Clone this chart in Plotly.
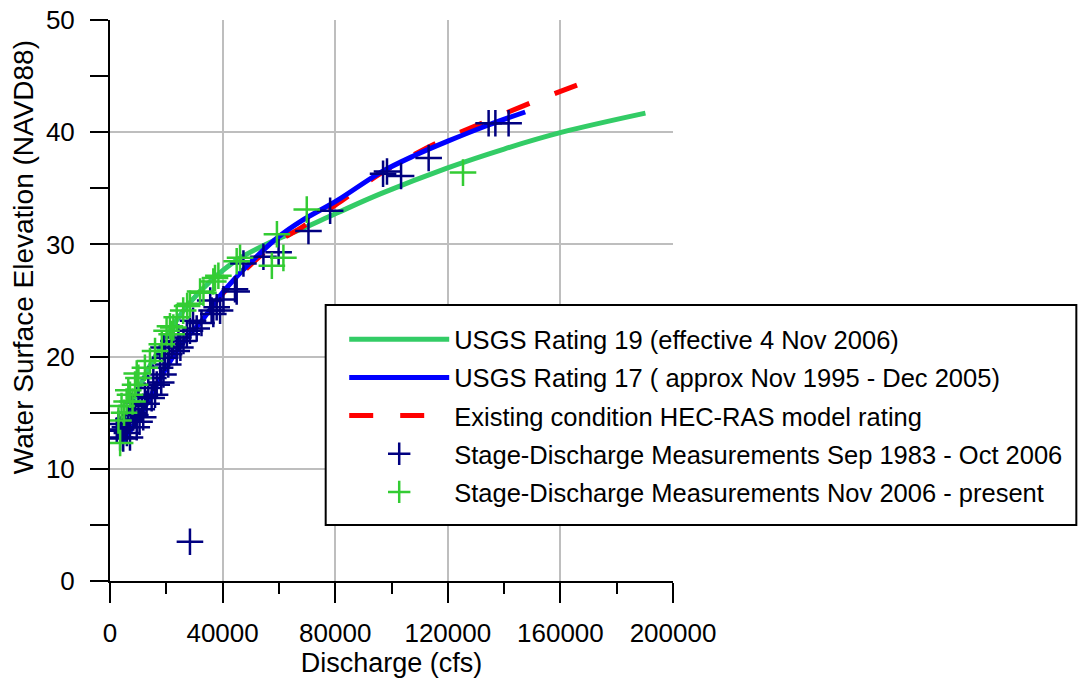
import plotly.graph_objects as go

# Rating curves (discharge cfs, stage ft NAVD88)
rating19_q = [3600, 6000, 10000, 14200, 18400, 22000, 28000, 35600, 45000, 57000, 67400, 80600, 96000, 119700, 140000, 160600, 190200]
rating19_h = [12.6, 14.6, 17.0, 19.2, 21.0, 22.6, 24.7, 26.7, 28.6, 30.2, 31.3, 32.8, 34.5, 36.8, 38.5, 40.0, 41.7]

rating17_q = [4500, 8000, 11300, 16000, 22400, 27000, 32000, 40000, 50000, 60000, 68000, 80600, 96000, 108000, 120000, 134000, 147500]
rating17_h = [12.3, 13.7, 15.0, 17.2, 20.0, 21.6, 23.0, 25.7, 28.4, 30.7, 32.1, 33.9, 36.4, 37.9, 39.2, 40.6, 41.8]

# HEC-RAS rating listed from the high-flow end
hecras_q = [165900, 158600, 149300, 134000, 120000, 108000, 96000, 80600, 68000, 60000, 50000, 40000, 30000]
hecras_h = [44.2, 43.5, 42.6, 41.0, 39.5, 38.0, 36.3, 33.6, 31.5, 30.3, 28.2, 25.6, 22.6]

# Stage-discharge measurements Sep 1983 - Oct 2006
meas1_q = [2400, 3000, 3600, 4000, 4700, 5300, 6000, 6500, 7100, 7700, 8300, 9000, 9500, 10100, 10500,
           11300, 11800, 12400, 13000, 13600, 14800, 15400, 16000, 16600, 17800, 18200, 19000, 19000,
           19600, 20700, 21000, 21900, 22500, 23700, 24300, 25000, 26100, 27300, 28400, 29500, 30800,
           32500, 35600, 36100, 36700, 37900, 39100, 40300, 44400, 45000, 47400, 54500, 59900, 70500,
           78200, 97000, 98400, 103400, 113200, 134500, 136900, 141600, 28400]
meas1_h = [13.4, 14.0, 12.8, 13.5, 12.7, 13.7, 13.2, 14.4, 12.8, 15.6, 15.0, 14.8, 13.7, 15.9, 14.2,
           15.3, 14.6, 16.5, 15.8, 17.2, 16.3, 18.1, 16.6, 17.5, 19.0, 17.7, 18.4, 20.8,
           19.9, 19.3, 20.2, 21.1, 21.4, 20.5, 21.7, 20.8, 21.4, 22.0, 22.3, 23.2, 22.5,
           23.0, 25.0, 24.1, 23.8, 24.4, 24.1, 25.1, 26.0, 25.8, 28.3, 28.9, 29.3, 31.2,
           33.0, 36.3, 36.5, 36.1, 37.7, 40.8, 40.8, 40.8, 3.5]

# Stage-discharge measurements Nov 2006 - present
meas2_q = [3000, 3600, 4100, 5000, 5900, 6500, 7100, 8000, 8900, 9500, 10100, 12400, 14200, 16000,
           18400, 20100, 21300, 21900, 22500, 23700, 26000, 27400, 28400, 32000, 33200, 36700, 37300,
           38500, 45000, 46200, 57500, 59300, 61600, 69900, 125400]
meas2_h = [14.3, 12.3, 15.6, 15.0, 16.0, 17.0, 16.6, 16.0, 17.5, 18.5, 18.1, 19.0, 19.6, 20.5,
           21.1, 22.3, 22.7, 22.0, 22.6, 23.5, 24.1, 24.5, 24.7, 25.8, 25.7, 26.7, 27.0,
           27.2, 28.5, 28.8, 28.1, 30.9, 28.8, 33.1, 36.4]

x_ticks = [0, 40000, 80000, 120000, 160000, 200000]
y_ticks = [0, 10, 20, 30, 40, 50]

FONT = "Liberation Sans, Arial, sans-serif"

fig = go.Figure()
fig.add_trace(go.Scatter(x=rating19_q, y=rating19_h, mode="lines", line=dict(color="#33CC66", width=5, shape="spline"),
                         name="USGS Rating 19 (effective 4 Nov 2006)", legendgroup="a", legendrank=1))
fig.add_trace(go.Scatter(x=hecras_q, y=hecras_h, mode="lines", line=dict(color="#FF0000", width=5, dash="24px,27px", shape="spline"),
                         name="Existing condition HEC-RAS model rating", legendgroup="c", legendrank=3))
fig.add_trace(go.Scatter(x=rating17_q, y=rating17_h, mode="lines", line=dict(color="#0000FF", width=5, shape="spline"),
                         name="USGS Rating 17 ( approx Nov 1995 - Dec 2005)", legendgroup="b", legendrank=2))
fig.add_trace(go.Scatter(x=meas1_q, y=meas1_h, mode="markers",
                         marker=dict(symbol="cross-thin", size=19, line=dict(color="#000080", width=2.5)),
                         name="Stage-Discharge Measurements Sep 1983 - Oct 2006", legendgroup="d", legendrank=4))
fig.add_trace(go.Scatter(x=meas2_q, y=meas2_h, mode="markers",
                         marker=dict(symbol="cross-thin", size=19, line=dict(color="#33CC33", width=2.5)),
                         name="Stage-Discharge Measurements Nov 2006 - present", legendgroup="e", legendrank=5))

# legend frame
fig.add_shape(type="rect", xref="paper", yref="paper", x0=0.3831, x1=1.7164, y0=0.0998, y1=0.492,
              line=dict(color="black", width=2), fillcolor="white", layer="above")

# y-axis title (placed above centre, as in the original)
fig.add_annotation(text="Water Surface Elevation (NAVD88)", xref="paper", yref="paper", x=-0.1538, y=0.578,
                   xanchor="center", yanchor="middle", textangle=-90, showarrow=False,
                   font=dict(family=FONT, size=28, color="black"))

fig.update_layout(
    width=1090, height=681,
    margin=dict(l=110, r=417, t=20, b=100),
    plot_bgcolor="white", paper_bgcolor="white",
    font=dict(family=FONT, size=26, color="black"),
    legend=dict(x=0.416, y=0.472, xanchor="left", yanchor="top", bgcolor="rgba(0,0,0,0)",
                borderwidth=0, font=dict(size=25.5), itemwidth=100, tracegroupgap=2, traceorder="grouped"),
    xaxis=dict(range=[0, 200000], tickvals=x_ticks, tickformat="d", showgrid=True, gridcolor="#BEBEBE", gridwidth=2,
               showline=True, linecolor="black", linewidth=2, ticks="outside", ticklen=20, tickwidth=2,
               tickcolor="black", zeroline=False, automargin=False, ticklabelstandoff=8,
               minor=dict(dtick=20000, ticks="outside", ticklen=11, tickwidth=2, tickcolor="black", showgrid=False),
               title=dict(text="Discharge (cfs)", standoff=6, font=dict(size=27))),
    yaxis=dict(range=[0, 50], tickvals=y_ticks, showgrid=True, gridcolor="#BEBEBE", gridwidth=2,
               showline=True, linecolor="black", linewidth=2, ticks="outside", ticklen=18, tickwidth=2,
               tickcolor="black", zeroline=False, automargin=False, ticklabelstandoff=10,
               minor=dict(dtick=5, ticks="outside", ticklen=18, tickwidth=2, tickcolor="black", showgrid=False)),
)

fig.write_html("out.html", config={"displayModeBar": False}, post_script="document.body.style.margin='0';")
